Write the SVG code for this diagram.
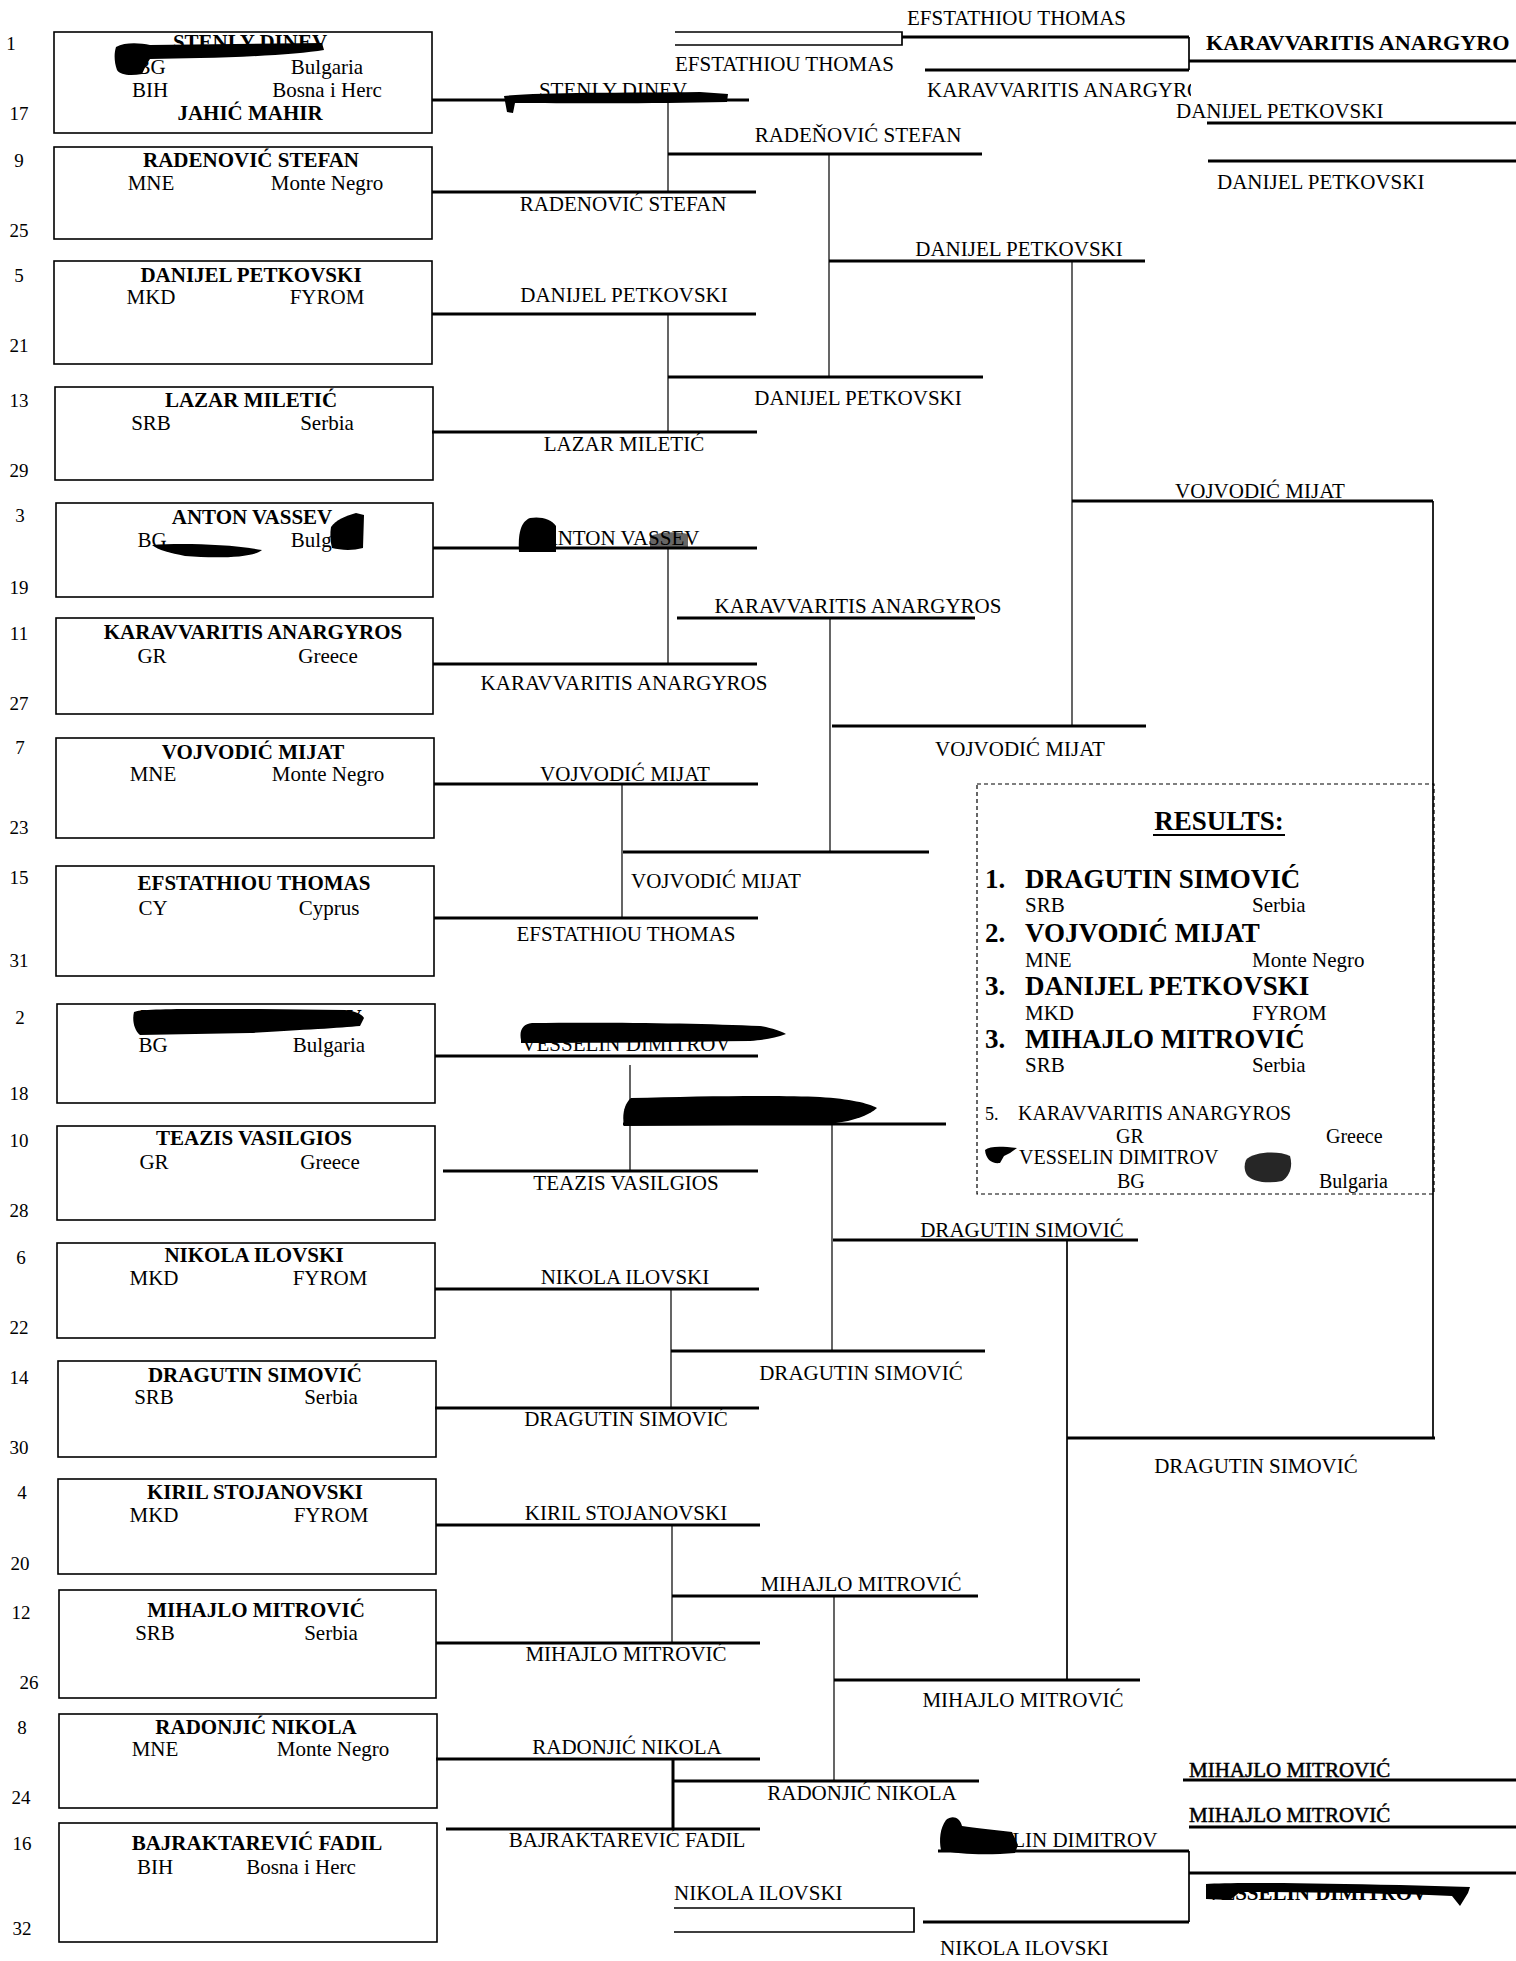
<svg xmlns="http://www.w3.org/2000/svg" width="1516" height="1961" viewBox="0 0 1516 1961">
<defs>
<style>
.t{font-family:"Liberation Serif","Times New Roman",serif;font-size:21px;fill:#000}
.b{font-weight:bold}
.c{text-anchor:middle}
.sn{font-size:19px}
.big{font-size:27px;font-weight:bold}
.sm{font-size:20px}
.hv{stroke:#000;stroke-width:0.5}
.th{stroke:#000;stroke-width:3;fill:none}
.tn{stroke:#000;stroke-width:1.2;fill:none}
.md{stroke:#000;stroke-width:1.7;fill:none}
.bx{fill:none;stroke:#000;stroke-width:1.6}
.blob{fill:#000}
</style>
<clipPath id="clipA"><rect x="660" y="40" width="241" height="40"/></clipPath>
<clipPath id="clipB"><rect x="900" y="75" width="291" height="40"/></clipPath>
<clipPath id="clipC"><rect x="1190" y="20" width="320" height="40"/></clipPath>
</defs>
<rect width="1516" height="1961" fill="#fff"/>

<!-- entry boxes -->
<g id="seed-1">
<rect class="bx" x="54" y="32" width="378" height="101"/>
<text class="t sn c" x="11" y="50">1</text><text class="t sn c" x="19" y="120">17</text>
<text class="t b c" x="250" y="49">STENLY DINEV</text>
<text class="t c" x="151" y="74">BG</text><text class="t c" x="327" y="74">Bulgaria</text>
<text class="t c" x="150" y="97">BIH</text><text class="t c" x="327" y="97">Bosna i Herc</text>
<text class="t b c" x="250" y="120">JAHIĆ MAHIR</text>
</g>
<g id="seed-9">
<rect class="bx" x="54" y="147" width="378" height="92"/>
<text class="t sn c" x="19" y="167">9</text><text class="t sn c" x="19" y="237">25</text>
<text class="t b c" x="251" y="167">RADENOVIĆ STEFAN</text>
<text class="t c" x="151" y="190">MNE</text><text class="t c" x="327" y="190">Monte Negro</text>
</g>
<g id="seed-5">
<rect class="bx" x="54" y="261" width="378" height="103"/>
<text class="t sn c" x="19" y="282">5</text><text class="t sn c" x="19" y="352">21</text>
<text class="t b c" x="251" y="282">DANIJEL PETKOVSKI</text>
<text class="t c" x="151" y="304">MKD</text><text class="t c" x="327" y="304">FYROM</text>
</g>
<g id="seed-13">
<rect class="bx" x="55" y="387" width="378" height="93"/>
<text class="t sn c" x="19" y="407">13</text><text class="t sn c" x="19" y="477">29</text>
<text class="t b c" x="251" y="407">LAZAR MILETIĆ</text>
<text class="t c" x="151" y="430">SRB</text><text class="t c" x="327" y="430">Serbia</text>
</g>
<g id="seed-3">
<rect class="bx" x="56" y="503" width="377" height="94"/>
<text class="t sn c" x="20" y="522">3</text><text class="t sn c" x="19" y="594">19</text>
<text class="t b c" x="252" y="524">ANTON VASSEV</text>
<text class="t c" x="152" y="547">BG</text><text class="t c" x="327" y="547">Bulgaria</text>
</g>
<g id="seed-11">
<rect class="bx" x="56" y="618" width="377" height="96"/>
<text class="t sn c" x="19" y="640">11</text><text class="t sn c" x="19" y="710">27</text>
<text class="t b c" x="253" y="639">KARAVVARITIS ANARGYROS</text>
<text class="t c" x="152" y="663">GR</text><text class="t c" x="328" y="663">Greece</text>
</g>
<g id="seed-7">
<rect class="bx" x="56" y="738" width="378" height="100"/>
<text class="t sn c" x="20" y="754">7</text><text class="t sn c" x="19" y="834">23</text>
<text class="t b c" x="253" y="759">VOJVODIĆ MIJAT</text>
<text class="t c" x="153" y="781">MNE</text><text class="t c" x="328" y="781">Monte Negro</text>
</g>
<g id="seed-15">
<rect class="bx" x="56" y="866" width="378" height="110"/>
<text class="t sn c" x="19" y="884">15</text><text class="t sn c" x="19" y="967">31</text>
<text class="t b c" x="254" y="890">EFSTATHIOU THOMAS</text>
<text class="t c" x="153" y="915">CY</text><text class="t c" x="329" y="915">Cyprus</text>
</g>
<g id="seed-2">
<rect class="bx" x="57" y="1004" width="378" height="99"/>
<text class="t sn c" x="20" y="1024">2</text><text class="t sn c" x="19" y="1100">18</text>
<text class="t b c" x="251" y="1024">VESSELIN DIMITROV</text>
<text class="t c" x="153" y="1052">BG</text><text class="t c" x="329" y="1052">Bulgaria</text>
</g>
<g id="seed-10">
<rect class="bx" x="57" y="1126" width="378" height="94"/>
<text class="t sn c" x="19" y="1147">10</text><text class="t sn c" x="19" y="1217">28</text>
<text class="t b c" x="254" y="1145">TEAZIS VASILGIOS</text>
<text class="t c" x="154" y="1169">GR</text><text class="t c" x="330" y="1169">Greece</text>
</g>
<g id="seed-6">
<rect class="bx" x="57" y="1243" width="378" height="95"/>
<text class="t sn c" x="21" y="1264">6</text><text class="t sn c" x="19" y="1334">22</text>
<text class="t b c" x="254" y="1262">NIKOLA ILOVSKI</text>
<text class="t c" x="154" y="1285">MKD</text><text class="t c" x="330" y="1285">FYROM</text>
</g>
<g id="seed-14">
<rect class="bx" x="58" y="1361" width="378" height="96"/>
<text class="t sn c" x="19" y="1384">14</text><text class="t sn c" x="19" y="1454">30</text>
<text class="t b c" x="255" y="1382">DRAGUTIN SIMOVIĆ</text>
<text class="t c" x="154" y="1404">SRB</text><text class="t c" x="331" y="1404">Serbia</text>
</g>
<g id="seed-4">
<rect class="bx" x="58" y="1479" width="378" height="95"/>
<text class="t sn c" x="22" y="1499">4</text><text class="t sn c" x="20" y="1570">20</text>
<text class="t b c" x="255" y="1499">KIRIL STOJANOVSKI</text>
<text class="t c" x="154" y="1522">MKD</text><text class="t c" x="331" y="1522">FYROM</text>
</g>
<g id="seed-12">
<rect class="bx" x="59" y="1590" width="377" height="108"/>
<text class="t sn c" x="21" y="1619">12</text><text class="t sn c" x="29" y="1689">26</text>
<text class="t b c" x="256" y="1617">MIHAJLO MITROVIĆ</text>
<text class="t c" x="155" y="1640">SRB</text><text class="t c" x="331" y="1640">Serbia</text>
</g>
<g id="seed-8">
<rect class="bx" x="59" y="1714" width="378" height="94"/>
<text class="t sn c" x="22" y="1734">8</text><text class="t sn c" x="21" y="1804">24</text>
<text class="t b c" x="256" y="1734">RADONJIĆ NIKOLA</text>
<text class="t c" x="155" y="1756">MNE</text><text class="t c" x="333" y="1756">Monte Negro</text>
</g>
<g id="seed-16">
<rect class="bx" x="59" y="1823" width="378" height="119"/>
<text class="t sn c" x="22" y="1850">16</text><text class="t sn c" x="22" y="1935">32</text>
<text class="t b c" x="257" y="1850">BAJRAKTAREVIĆ FADIL</text>
<text class="t c" x="155" y="1874">BIH</text><text class="t c" x="301" y="1874">Bosna i Herc</text>
</g>

<!-- connectors -->
<g id="connectors">
<path class="th" d="M432,100H749M432,192H756M432,314H756M432,432H757M433,548H757M433,664H757M434,784H758M434,918H758M435,1056H758M443,1171H758M435,1289H759M435,1408H759M436,1525H760M436,1643H760M436,1759H760M446,1829H760"/>
<path class="tn" d="M668,100V192M668,314V432M668,548V664M622,784V918M630,1065V1171M671,1289V1408M672,1525V1643"/>
<path class="th" d="M673,1759V1829"/>
<path class="th" d="M668,154H982M668,377H983M677,618H975M623,852H929M623,1124H946M671,1351H985M672,1596H978M673,1781H979"/>
<path class="tn" d="M829,154V377M830,618V852M832,1124V1351M834,1596V1781"/>
<path class="th" d="M829,261H1145M832,726H1146M833,1240H1138M834,1680H1140"/>
<path class="tn" d="M1072,261V726"/>
<path class="md" d="M1067,1240V1680M1433,501V1438"/>
<path class="th" d="M1072,501H1433M1067,1438H1435"/>
<path class="md" d="M675,32H902V45H675"/>
<path class="th" d="M902,37H1189M925,70H1189M1189,61H1516M1207,123H1516M1208,161H1516"/>
<path class="md" d="M1189,37V70"/>
<path class="th" d="M1183,1780H1516M1189,1827H1516M938,1851H1189M1189,1873H1516M923,1922H1189"/>
<path class="md" d="M1189,1851V1922M674,1908H914V1932H674"/>
</g>

<!-- bracket labels -->
<g id="labels">
<text class="t c" x="613" y="97">STENLY DINEV</text>
<text class="t c" x="623" y="211">RADENOVIĆ STEFAN</text>
<text class="t c" x="624" y="302">DANIJEL PETKOVSKI</text>
<text class="t c" x="624" y="451">LAZAR MILETIĆ</text>
<text class="t c" x="621" y="545">ANTON VASSEV</text>
<text class="t c" x="624" y="690">KARAVVARITIS ANARGYROS</text>
<text class="t c" x="625" y="781">VOJVODIĆ MIJAT</text>
<text class="t c" x="626" y="941">EFSTATHIOU THOMAS</text>
<text class="t c" x="626" y="1051">VESSELIN DIMITROV</text>
<text class="t c" x="626" y="1190">TEAZIS VASILGIOS</text>
<text class="t c" x="625" y="1284">NIKOLA ILOVSKI</text>
<text class="t c" x="626" y="1426">DRAGUTIN SIMOVIĆ</text>
<text class="t c" x="626" y="1520">KIRIL STOJANOVSKI</text>
<text class="t c" x="626" y="1661">MIHAJLO MITROVIĆ</text>
<text class="t c" x="627" y="1754">RADONJIĆ NIKOLA</text>
<text class="t c" x="627" y="1847">BAJRAKTAREVIĆ FADIL</text>

<text class="t c" x="858" y="142">RADEŇOVIĆ STEFAN</text>
<text class="t c" x="858" y="405">DANIJEL PETKOVSKI</text>
<text class="t c" x="858" y="613">KARAVVARITIS ANARGYROS</text>
<text class="t" x="631" y="888">VOJVODIĆ MIJAT</text>
<text class="t c" x="861" y="1380">DRAGUTIN SIMOVIĆ</text>
<text class="t c" x="861" y="1591">MIHAJLO MITROVIĆ</text>
<text class="t c" x="862" y="1800">RADONJIĆ NIKOLA</text>

<text class="t c" x="1019" y="256">DANIJEL PETKOVSKI</text>
<text class="t c" x="1020" y="756">VOJVODIĆ MIJAT</text>
<text class="t c" x="1022" y="1237">DRAGUTIN SIMOVIĆ</text>
<text class="t c" x="1023" y="1707">MIHAJLO MITROVIĆ</text>

<text class="t c" x="1260" y="498">VOJVODIĆ MIJAT</text>
<text class="t c" x="1256" y="1473">DRAGUTIN SIMOVIĆ</text>

<text class="t" x="907" y="25">EFSTATHIOU THOMAS</text>
<text class="t" x="675" y="71" clip-path="url(#clipA)">EFSTATHIOU THOMAS</text>
<text class="t b" x="1206" y="50" textLength="316" lengthAdjust="spacingAndGlyphs" clip-path="url(#clipC)">KARAVVARITIS ANARGYROS</text>
<text class="t" x="927" y="97" clip-path="url(#clipB)">KARAVVARITIS ANARGYROS</text>
<text class="t" x="1176" y="118">DANIJEL PETKOVSKI</text>
<text class="t" x="1217" y="189">DANIJEL PETKOVSKI</text>

<text class="t hv" x="1189" y="1777">MIHAJLO MITROVIĆ</text>
<text class="t hv" x="1189" y="1822">MIHAJLO MITROVIĆ</text>
<text class="t" x="948" y="1847">VESSELIN DIMITROV</text>
<text class="t" x="674" y="1900">NIKOLA ILOVSKI</text>
<text class="t b" x="1206" y="1900">VESSELIN DIMITROV</text>
<text class="t" x="940" y="1955">NIKOLA ILOVSKI</text>
</g>

<!-- results panel -->
<g id="results">
<rect x="977" y="784" width="457" height="410" fill="none" stroke="#000" stroke-width="1.2" stroke-dasharray="4 3"/>
<text class="t c" x="1219" y="830" style="font-size:27px;font-weight:bold">RESULTS:</text>
<line x1="1153" y1="835" x2="1285" y2="835" stroke="#000" stroke-width="2"/>
<text class="t big" x="985" y="888">1.</text><text class="t big" x="1025" y="888">DRAGUTIN SIMOVIĆ</text>
<text class="t" x="1025" y="912">SRB</text><text class="t" x="1252" y="912">Serbia</text>
<text class="t big" x="985" y="942">2.</text><text class="t big" x="1025" y="942">VOJVODIĆ MIJAT</text>
<text class="t" x="1025" y="967">MNE</text><text class="t" x="1252" y="967">Monte Negro</text>
<text class="t big" x="985" y="995">3.</text><text class="t big" x="1025" y="995">DANIJEL PETKOVSKI</text>
<text class="t" x="1025" y="1020">MKD</text><text class="t" x="1252" y="1020">FYROM</text>
<text class="t big" x="985" y="1048">3.</text><text class="t big" x="1025" y="1048">MIHAJLO MITROVIĆ</text>
<text class="t" x="1025" y="1072">SRB</text><text class="t" x="1252" y="1072">Serbia</text>
<text class="t sm" x="985" y="1120" style="font-size:18px">5.</text><text class="t sm" x="1018" y="1120">KARAVVARITIS ANARGYROS</text>
<text class="t sm" x="1116" y="1143">GR</text><text class="t sm" x="1326" y="1143">Greece</text>
<text class="t sm" x="1019" y="1164">VESSELIN DIMITROV</text>
<text class="t sm" x="1117" y="1188">BG</text><text class="t sm" x="1319" y="1188">Bulgaria</text>
</g>

<!-- ink smudges on the scan -->
<g id="smudges">
<path class="blob" d="M116,47C125,42 140,43 150,45L322,43L324,50C300,54 250,57 200,58L150,59C146,64 144,70 142,74C130,76 120,75 117,70C114,62 114,53 116,47Z"/>
<path class="blob" d="M504,96C540,92 620,93 700,92L728,94L727,102C650,104 560,103 515,103L513,113L507,112Z"/>
<path class="blob" d="M152,545C180,543 230,544 262,550C255,557 220,559 185,556C170,553 158,550 152,545Z"/>
<path class="blob" d="M331,527C336,520 345,516 356,513L364,515L363,548C352,551 340,550 332,548C330,540 330,533 331,527Z"/>
<path class="blob" d="M519,552C518,535 520,522 530,518C540,516 552,519 556,526L556,552Z"/>
<path class="blob" opacity="0.6" d="M650,536C660,532 675,531 688,534L688,548L650,548Z"/>
<path class="blob" d="M134,1012C140,1008 200,1009 260,1009L345,1010C355,1011 362,1014 364,1018L360,1026C340,1028 300,1030 250,1033L140,1035C134,1030 132,1020 134,1012Z"/>
<path class="blob" d="M521,1040C519,1030 523,1024 532,1023C600,1022 700,1023 760,1026C772,1028 780,1031 786,1034C775,1038 765,1040 750,1041C680,1042 600,1043 521,1043Z"/>
<path class="blob" d="M624,1126C622,1115 624,1104 631,1098C700,1096 780,1095 820,1097C850,1099 868,1103 877,1108C870,1114 860,1118 848,1121L830,1124L624,1126Z"/>
<path class="blob" d="M985,1150C990,1146 1000,1146 1017,1148L1010,1153L1004,1156L1000,1163C992,1164 986,1160 985,1150Z"/>
<path class="blob" opacity="0.85" d="M1246,1160C1252,1152 1278,1150 1290,1156C1293,1166 1290,1176 1282,1181C1268,1184 1252,1182 1247,1175C1244,1170 1244,1165 1246,1160Z"/>
<path class="blob" d="M941,1850C939,1840 940,1828 946,1820C952,1815 960,1817 962,1826C975,1828 995,1830 1012,1832L1018,1845L1015,1853C990,1855 960,1855 941,1850Z"/>
<path class="blob" d="M1206,1884C1230,1882 1300,1883 1400,1885L1470,1887L1468,1893L1460,1906L1452,1896C1380,1893 1300,1892 1240,1892L1230,1900L1206,1899Z"/>
</g>
</svg>
